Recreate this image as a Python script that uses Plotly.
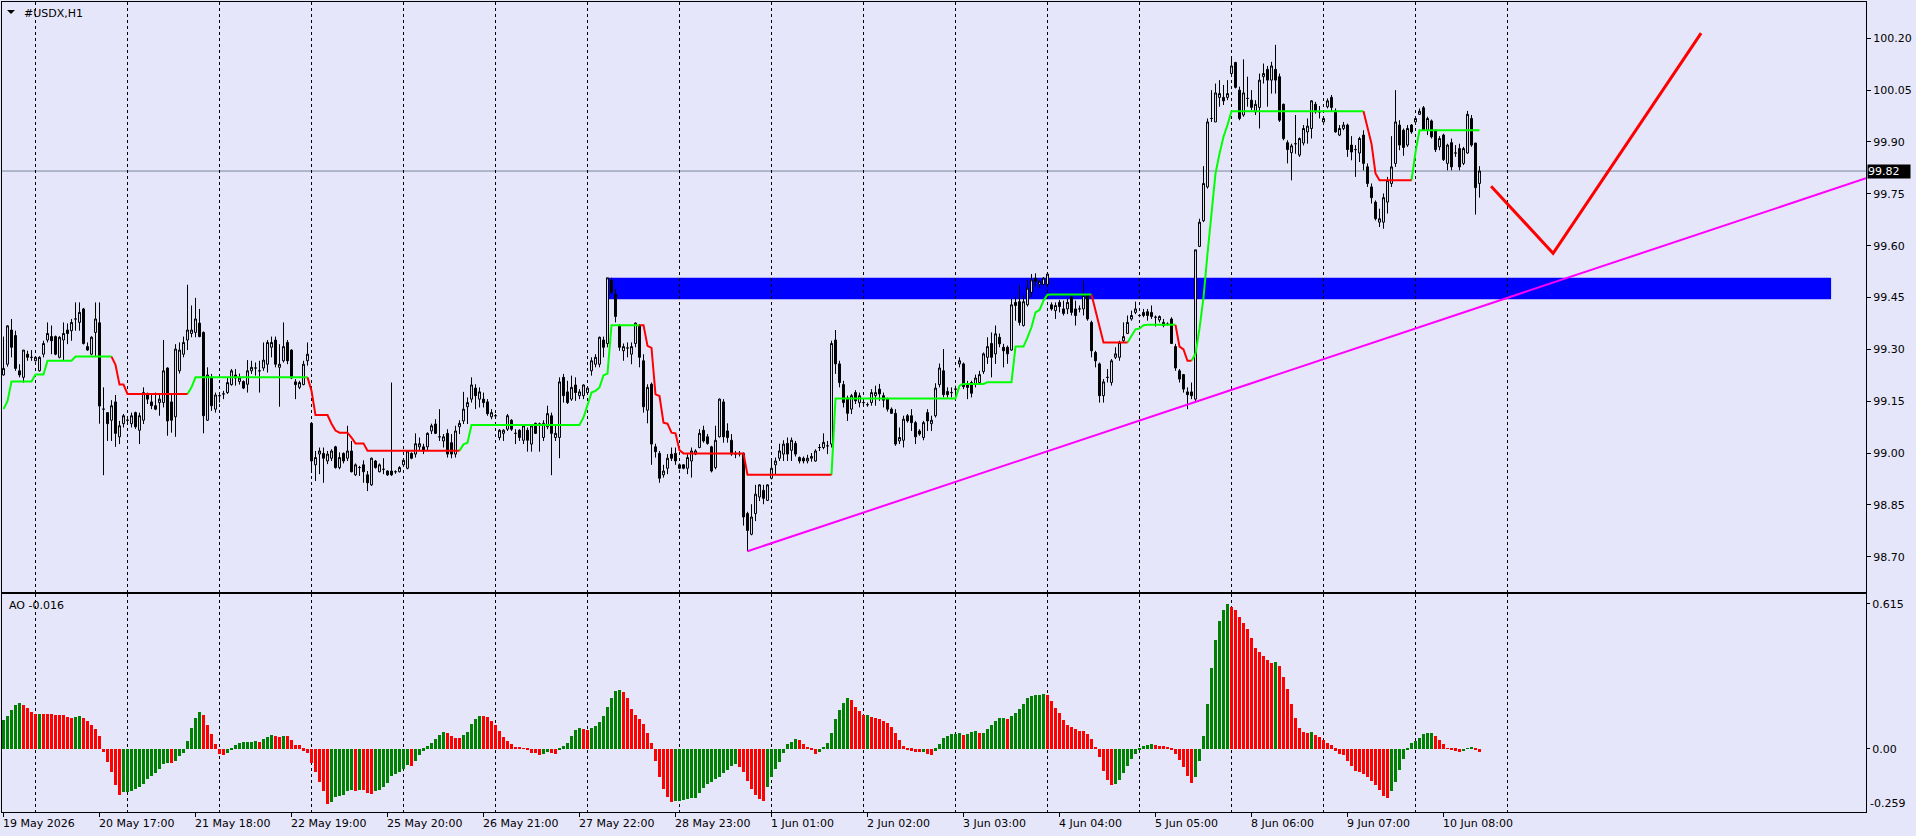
import plotly.graph_objects as go

# ---------------- data (bar index = hourly bar) ----------------
opens = [
 99.226, 99.257, 99.356, 99.340, 99.238, 99.219, 99.286, 99.277, 99.267, 99.238,
 99.286, 99.327, 99.337, 99.337, 99.277, 99.327, 99.356, 99.354, 99.388, 99.378,
 99.417, 99.308, 99.286, 99.349, 99.377, 99.127, 99.117, 99.095, 99.148, 99.047,
 99.085, 99.095, 99.085, 99.117, 99.066, 99.095, 99.171, 99.148, 99.137, 99.146,
 99.146, 99.246, 99.148, 99.105, 99.238, 99.286, 99.327, 99.346, 99.349, 99.376,
 99.349, 99.095, 99.219, 99.127, 99.166, 99.171, 99.175, 99.198, 99.226, 99.207,
 99.207, 99.199, 99.238, 99.246, 99.238, 99.246, 99.257, 99.306, 99.327, 99.248,
 99.267, 99.320, 99.298, 99.206, 99.190, 99.198, 99.267, 99.086, 98.966, 98.997,
 98.999, 98.977, 98.985, 99.018, 98.958, 98.999, 98.985, 99.006, 98.937, 98.958,
 98.966, 98.937, 98.908, 98.977, 98.946, 98.953, 98.948, 98.948, 98.946, 98.946,
 98.966, 98.956, 98.999, 98.997, 99.018, 99.018, 99.018, 99.064, 99.084, 99.047,
 99.035, 99.057, 99.030, 98.997, 99.076, 99.093, 99.134, 99.156, 99.188, 99.156,
 99.156, 99.148, 99.105, 99.108, 99.045, 99.057, 99.069, 99.095, 99.057, 99.066,
 99.037, 99.066, 99.026, 99.086, 99.084, 99.045, 99.076, 99.108, 99.045, 99.045,
 99.219, 99.177, 99.156, 99.197, 99.166, 99.166, 99.175, 99.238, 99.257, 99.257,
 99.327, 99.317, 99.499, 99.460, 99.369, 99.296, 99.304, 99.286, 99.317, 99.369,
 99.267, 99.124, 99.199, 99.018, 98.999, 98.937, 98.956, 98.997, 98.999, 98.966,
 98.966, 98.956, 98.977, 98.997, 99.016, 99.066, 99.047, 99.018, 98.958, 99.047,
 99.148, 99.064, 99.037, 98.999, 98.997, 98.999, 98.825, 98.765, 98.825, 98.873,
 98.892, 98.863, 98.927, 98.966, 98.985, 98.997, 99.028, 99.008, 99.028, 98.987,
 98.985, 98.977, 98.985, 98.977, 99.016, 99.016, 99.021, 99.026, 99.327, 99.258,
 99.198, 99.159, 99.127, 99.175, 99.146, 99.146, 99.140, 99.146, 99.166, 99.185,
 99.166, 99.156, 99.127, 99.115, 99.035, 99.037, 99.108, 99.108, 99.088, 99.064,
 99.045, 99.117, 99.085, 99.108, 99.198, 99.238, 99.178, 99.175, 99.185, 99.258,
 99.258, 99.198, 99.204, 99.198, 99.204, 99.236, 99.277, 99.317, 99.287, 99.335,
 99.306, 99.306, 99.298, 99.436, 99.438, 99.369, 99.429, 99.465, 99.506, 99.488,
 99.488, 99.488, 99.429, 99.412, 99.436, 99.417, 99.417, 99.451, 99.417, 99.417,
 99.417, 99.458, 99.378, 99.291, 99.258, 99.166, 99.219, 99.204, 99.277, 99.277,
 99.325, 99.346, 99.388, 99.407, 99.398, 99.407, 99.409, 99.407, 99.393, 99.385,
 99.378, 99.373, 99.388, 99.308, 99.238, 99.227, 99.177, 99.177, 99.156, 99.598,
 99.672, 99.770, 99.968, 99.958, 100.029, 100.029, 100.029, 100.098, 100.130, 100.050,
 99.978, 100.026, 100.021, 99.987, 100.000, 100.089, 100.110, 100.079, 100.110, 100.089,
 100.009, 99.898, 99.869, 99.895, 99.862, 99.897, 99.929, 99.939, 100.009, 99.987,
 99.958, 100.002, 100.029, 99.990, 99.920, 99.939, 99.949, 99.891, 99.878, 99.868,
 99.920, 99.828, 99.770, 99.726, 99.668, 99.668, 99.726, 99.780, 99.838, 99.949,
 99.934, 99.891, 99.949, 99.958, 99.980, 99.999, 99.934, 99.961, 99.934, 99.886,
 99.920, 99.838, 99.898, 99.868, 99.881, 99.838, 99.868, 99.968, 99.897, 99.780,
]
highs = [
 99.337, 99.370, 99.388, 99.354, 99.257, 99.298, 99.296, 99.298, 99.280, 99.280,
 99.325, 99.378, 99.369, 99.340, 99.338, 99.378, 99.375, 99.388, 99.436, 99.436,
 99.420, 99.320, 99.338, 99.436, 99.436, 99.190, 99.117, 99.153, 99.168, 99.093,
 99.113, 99.103, 99.117, 99.120, 99.117, 99.190, 99.175, 99.171, 99.175, 99.171,
 99.327, 99.248, 99.169, 99.315, 99.320, 99.337, 99.487, 99.427, 99.449, 99.417,
 99.352, 99.248, 99.229, 99.175, 99.175, 99.180, 99.219, 99.243, 99.243, 99.230,
 99.210, 99.269, 99.267, 99.262, 99.267, 99.320, 99.327, 99.337, 99.337, 99.315,
 99.378, 99.327, 99.300, 99.214, 99.209, 99.267, 99.320, 99.088, 99.006, 99.016,
 99.016, 99.006, 99.011, 99.021, 99.002, 99.002, 99.079, 99.035, 98.970, 98.963,
 98.979, 98.948, 98.987, 98.980, 98.970, 98.985, 98.950, 99.204, 98.950, 98.962,
 98.985, 99.008, 99.002, 99.057, 99.045, 99.027, 99.060, 99.085, 99.098, 99.127,
 99.055, 99.069, 99.055, 99.079, 99.095, 99.177, 99.161, 99.219, 99.199, 99.190,
 99.175, 99.156, 99.127, 99.113, 99.069, 99.069, 99.113, 99.098, 99.069, 99.069,
 99.084, 99.074, 99.084, 99.088, 99.088, 99.095, 99.137, 99.117, 99.084, 99.219,
 99.229, 99.209, 99.224, 99.219, 99.185, 99.199, 99.192, 99.277, 99.286, 99.337,
 99.337, 99.507, 99.507, 99.475, 99.373, 99.317, 99.320, 99.320, 99.378, 99.373,
 99.286, 99.199, 99.204, 99.027, 99.006, 98.966, 98.997, 99.016, 99.016, 98.970,
 98.968, 98.997, 99.016, 99.011, 99.069, 99.079, 99.055, 99.021, 99.079, 99.158,
 99.156, 99.086, 99.055, 99.006, 99.006, 99.002, 98.830, 98.852, 98.908, 98.910,
 98.908, 98.910, 98.985, 98.987, 99.027, 99.037, 99.045, 99.045, 99.035, 98.990,
 98.990, 98.995, 99.000, 99.011, 99.026, 99.057, 99.035, 99.325, 99.356, 99.267,
 99.209, 99.166, 99.171, 99.182, 99.175, 99.156, 99.146, 99.185, 99.195, 99.200,
 99.175, 99.160, 99.132, 99.127, 99.074, 99.108, 99.113, 99.127, 99.093, 99.069,
 99.093, 99.127, 99.108, 99.202, 99.259, 99.301, 99.190, 99.190, 99.195, 99.277,
 99.262, 99.209, 99.209, 99.227, 99.238, 99.291, 99.335, 99.349, 99.369, 99.346,
 99.316, 99.311, 99.446, 99.451, 99.485, 99.456, 99.501, 99.518, 99.520, 99.501,
 99.509, 99.520, 99.436, 99.436, 99.443, 99.441, 99.446, 99.456, 99.441, 99.427,
 99.499, 99.462, 99.383, 99.296, 99.262, 99.214, 99.243, 99.272, 99.306, 99.325,
 99.378, 99.398, 99.412, 99.438, 99.402, 99.417, 99.417, 99.427, 99.398, 99.398,
 99.388, 99.378, 99.393, 99.316, 99.243, 99.229, 99.190, 99.204, 99.588, 99.678,
 99.830, 99.968, 100.050, 100.069, 100.079, 100.065, 100.079, 100.142, 100.132, 100.060,
 100.139, 100.089, 100.050, 100.021, 100.098, 100.127, 100.120, 100.132, 100.181, 100.098,
 100.011, 99.905, 99.895, 99.978, 99.913, 99.949, 99.968, 100.021, 100.016, 100.004,
 99.975, 100.026, 100.036, 99.997, 99.949, 99.958, 99.953, 99.917, 99.891, 99.915,
 99.934, 99.838, 99.780, 99.731, 99.707, 99.751, 99.799, 99.917, 100.050, 99.963,
 99.939, 99.949, 99.952, 99.975, 99.997, 100.004, 99.973, 99.965, 99.936, 99.917,
 99.924, 99.895, 99.910, 99.891, 99.895, 99.886, 99.990, 99.978, 99.897, 99.830,
]
lows = [
 99.224, 99.250, 99.277, 99.238, 99.219, 99.204, 99.267, 99.267, 99.265, 99.236,
 99.277, 99.320, 99.286, 99.283, 99.274, 99.267, 99.315, 99.325, 99.354, 99.354,
 99.314, 99.296, 99.283, 99.281, 99.085, 98.936, 99.035, 99.035, 99.018, 99.026,
 99.074, 99.085, 99.074, 99.070, 99.026, 99.084, 99.142, 99.127, 99.124, 99.108,
 99.132, 99.050, 99.059, 99.047, 99.230, 99.277, 99.298, 99.335, 99.335, 99.335,
 99.057, 99.093, 99.122, 99.117, 99.146, 99.156, 99.171, 99.195, 99.195, 99.198,
 99.185, 99.175, 99.229, 99.224, 99.175, 99.238, 99.233, 99.277, 99.248, 99.134,
 99.262, 99.257, 99.214, 99.156, 99.185, 99.196, 99.253, 98.948, 98.919, 98.939,
 98.914, 98.968, 98.977, 98.955, 98.953, 98.970, 98.977, 98.944, 98.934, 98.934,
 98.914, 98.890, 98.905, 98.955, 98.944, 98.939, 98.934, 98.934, 98.940, 98.944,
 98.960, 98.953, 98.982, 98.987, 99.006, 98.997, 99.006, 99.055, 99.055, 99.035,
 99.016, 98.987, 98.985, 98.987, 99.055, 99.084, 99.084, 99.146, 99.127, 99.132,
 99.132, 99.108, 99.098, 99.103, 99.037, 99.035, 99.064, 99.064, 99.026, 99.035,
 99.026, 99.004, 99.004, 99.055, 99.004, 99.035, 99.069, 98.936, 99.035, 98.985,
 99.146, 99.142, 99.151, 99.151, 99.156, 99.156, 99.172, 99.224, 99.248, 99.248,
 99.277, 99.306, 99.460, 99.378, 99.296, 99.267, 99.277, 99.257, 99.306, 99.248,
 99.117, 99.086, 98.966, 98.987, 98.914, 98.929, 98.939, 98.977, 98.966, 98.953,
 98.953, 98.939, 98.929, 98.994, 99.014, 99.030, 99.024, 98.944, 98.953, 99.045,
 99.030, 99.030, 98.992, 98.985, 98.990, 98.790, 98.716, 98.762, 98.803, 98.861,
 98.852, 98.861, 98.924, 98.939, 98.977, 98.977, 98.977, 98.977, 98.990, 98.970,
 98.970, 98.970, 98.975, 98.975, 99.006, 99.011, 98.997, 99.016, 99.229, 99.190,
 99.132, 99.093, 99.113, 99.142, 99.132, 99.134, 99.134, 99.137, 99.137, 99.151,
 99.132, 99.120, 99.113, 99.021, 99.026, 99.016, 99.088, 99.064, 99.026, 99.050,
 99.037, 99.064, 99.064, 99.103, 99.190, 99.161, 99.161, 99.161, 99.161, 99.248,
 99.185, 99.156, 99.161, 99.190, 99.198, 99.229, 99.258, 99.219, 99.258, 99.306,
 99.248, 99.258, 99.296, 99.383, 99.369, 99.366, 99.424, 99.451, 99.482, 99.478,
 99.485, 99.482, 99.412, 99.388, 99.407, 99.398, 99.402, 99.398, 99.369, 99.407,
 99.398, 99.383, 99.277, 99.248, 99.146, 99.146, 99.204, 99.195, 99.272, 99.267,
 99.320, 99.345, 99.383, 99.402, 99.393, 99.393, 99.383, 99.388, 99.366, 99.378,
 99.364, 99.369, 99.316, 99.238, 99.204, 99.175, 99.127, 99.156, 99.151, 99.596,
 99.668, 99.765, 99.958, 99.958, 100.002, 100.007, 100.021, 100.089, 100.055, 99.963,
 99.973, 100.002, 99.992, 99.978, 99.939, 100.069, 100.002, 100.040, 100.040, 99.958,
 99.905, 99.838, 99.789, 99.866, 99.857, 99.890, 99.895, 99.910, 99.982, 99.968,
 99.953, 99.997, 99.987, 99.927, 99.917, 99.934, 99.857, 99.847, 99.799, 99.842,
 99.818, 99.770, 99.722, 99.673, 99.654, 99.649, 99.693, 99.770, 99.828, 99.876,
 99.860, 99.886, 99.924, 99.953, 99.978, 99.932, 99.920, 99.910, 99.871, 99.876,
 99.845, 99.818, 99.818, 99.857, 99.818, 99.833, 99.866, 99.886, 99.690, 99.739,
]
closes = [
 99.245, 99.368, 99.306, 99.245, 99.226, 99.298, 99.277, 99.277, 99.277, 99.277,
 99.317, 99.346, 99.325, 99.286, 99.335, 99.346, 99.346, 99.378, 99.388, 99.407,
 99.317, 99.298, 99.335, 99.388, 99.136, 99.127, 99.085, 99.137, 99.057, 99.079,
 99.108, 99.095, 99.108, 99.076, 99.108, 99.175, 99.156, 99.137, 99.127, 99.156,
 99.238, 99.093, 99.095, 99.301, 99.298, 99.320, 99.356, 99.356, 99.388, 99.337,
 99.108, 99.226, 99.137, 99.168, 99.166, 99.171, 99.204, 99.238, 99.217, 99.217,
 99.188, 99.238, 99.248, 99.246, 99.238, 99.269, 99.320, 99.320, 99.257, 99.257,
 99.308, 99.267, 99.217, 99.198, 99.204, 99.257, 99.286, 98.977, 98.987, 99.006,
 98.985, 98.997, 99.006, 98.958, 98.987, 98.977, 99.006, 98.946, 98.966, 98.958,
 98.946, 98.914, 98.985, 98.958, 98.966, 98.953, 98.937, 98.937, 98.946, 98.958,
 98.979, 99.006, 98.985, 99.027, 99.027, 99.006, 99.057, 99.079, 99.057, 99.047,
 99.047, 98.997, 98.997, 99.064, 99.086, 99.127, 99.146, 99.197, 99.166, 99.177,
 99.146, 99.114, 99.117, 99.108, 99.066, 99.066, 99.108, 99.069, 99.057, 99.045,
 99.079, 99.037, 99.079, 99.057, 99.084, 99.086, 99.114, 99.057, 99.057, 99.206,
 99.166, 99.146, 99.190, 99.175, 99.177, 99.197, 99.188, 99.267, 99.277, 99.335,
 99.306, 99.507, 99.465, 99.395, 99.306, 99.308, 99.304, 99.308, 99.376, 99.277,
 99.134, 99.190, 99.026, 99.004, 98.927, 98.948, 98.985, 98.985, 98.977, 98.956,
 98.956, 98.987, 99.006, 99.006, 99.057, 99.035, 99.028, 98.948, 99.037, 99.156,
 99.047, 99.045, 98.997, 98.997, 98.999, 98.815, 98.776, 98.815, 98.881, 98.908,
 98.869, 98.908, 98.956, 98.977, 99.006, 99.026, 98.997, 99.037, 98.997, 98.977,
 98.977, 98.985, 98.990, 99.006, 99.016, 99.031, 99.021, 99.317, 99.258, 99.204,
 99.146, 99.115, 99.166, 99.151, 99.166, 99.146, 99.140, 99.175, 99.175, 99.171,
 99.153, 99.127, 99.115, 99.026, 99.045, 99.098, 99.093, 99.088, 99.047, 99.055,
 99.088, 99.093, 99.095, 99.188, 99.246, 99.169, 99.169, 99.175, 99.185, 99.267,
 99.192, 99.190, 99.173, 99.217, 99.227, 99.287, 99.308, 99.277, 99.345, 99.316,
 99.296, 99.287, 99.429, 99.427, 99.378, 99.438, 99.477, 99.501, 99.497, 99.497,
 99.506, 99.518, 99.417, 99.427, 99.424, 99.404, 99.436, 99.407, 99.398, 99.417,
 99.456, 99.388, 99.296, 99.267, 99.166, 99.206, 99.219, 99.267, 99.287, 99.320,
 99.337, 99.378, 99.398, 99.417, 99.398, 99.398, 99.398, 99.395, 99.393, 99.395,
 99.369, 99.373, 99.317, 99.246, 99.214, 99.185, 99.169, 99.166, 99.588, 99.668,
 99.780, 99.958, 99.968, 100.042, 100.040, 100.019, 100.040, 100.120, 100.058, 99.968,
 100.042, 100.026, 100.000, 100.009, 100.079, 100.098, 100.079, 100.120, 100.079, 99.963,
 99.910, 99.878, 99.889, 99.895, 99.910, 99.939, 99.946, 100.019, 99.987, 99.987,
 99.968, 100.019, 100.000, 99.929, 99.939, 99.949, 99.878, 99.871, 99.878, 99.910,
 99.838, 99.780, 99.739, 99.678, 99.678, 99.739, 99.789, 99.828, 99.958, 99.891,
 99.884, 99.939, 99.929, 99.968, 99.989, 99.934, 99.968, 99.915, 99.878, 99.910,
 99.849, 99.891, 99.828, 99.868, 99.828, 99.881, 99.980, 99.891, 99.768, 99.816,
]

# Awesome Oscillator values
ao = [
 0.122, 0.139, 0.164, 0.186, 0.194, 0.186, 0.173, 0.156, 0.147, 0.148,
 0.147, 0.146, 0.1455, 0.145, 0.1445, 0.144, 0.135, 0.130, 0.135, 0.139,
 0.130, 0.118, 0.101, 0.084, 0.054, -0.013, -0.055, -0.098, -0.153, -0.195,
 -0.183, -0.182, -0.178, -0.170, -0.161, -0.149, -0.127, -0.115, -0.102, -0.085,
 -0.064, -0.059, -0.060, -0.051, -0.030, -0.017, 0.034, 0.088, 0.130, 0.156,
 0.143, 0.101, 0.062, 0.020, -0.021, -0.025, -0.017, -0.004, 0.016, 0.024,
 0.028, 0.0285, 0.029, 0.033, 0.028, 0.041, 0.050, 0.058, 0.054, 0.050,
 0.054, 0.053, 0.037, 0.016, 0.015, -0.008, -0.017, -0.059, -0.098, -0.140,
 -0.178, -0.236, -0.225, -0.204, -0.200, -0.195, -0.178, -0.174, -0.178, -0.174,
 -0.175, -0.187, -0.191, -0.178, -0.174, -0.161, -0.144, -0.115, -0.106, -0.098,
 -0.085, -0.068, -0.072, -0.051, -0.025, -0.008, 0.013, 0.024, 0.041, 0.058,
 0.071, 0.067, 0.054, 0.045, 0.044, 0.058, 0.071, 0.105, 0.126, 0.139,
 0.138, 0.135, 0.118, 0.101, 0.075, 0.050, 0.033, 0.020, 0.008, 0.007,
 0.003, -0.004, -0.017, -0.018, -0.025, -0.024, -0.013, -0.017, -0.021, -0.004,
 0.011, 0.024, 0.054, 0.079, 0.088, 0.084, 0.079, 0.088, 0.096, 0.113,
 0.139, 0.177, 0.215, 0.245, 0.249, 0.241, 0.215, 0.169, 0.143, 0.126,
 0.105, 0.067, 0.024, -0.051, -0.119, -0.170, -0.204, -0.225, -0.224, -0.221,
 -0.217, -0.212, -0.209, -0.208, -0.187, -0.166, -0.149, -0.140, -0.127, -0.119,
 -0.102, -0.089, -0.072, -0.064, -0.077, -0.098, -0.138, -0.170, -0.195, -0.212,
 -0.224, -0.163, -0.120, -0.085, -0.057, -0.018, 0.020, 0.028, 0.041, 0.037,
 0.020, 0.007, -0.004, -0.021, -0.013, 0.007, 0.024, 0.067, 0.126, 0.164,
 0.194, 0.215, 0.207, 0.177, 0.160, 0.143, 0.145, 0.136, 0.132, 0.127,
 0.118, 0.110, 0.092, 0.067, 0.037, 0.011, -0.004, -0.008, -0.013, -0.014,
 -0.012, -0.021, -0.025, -0.008, 0.020, 0.045, 0.054, 0.062, 0.063, 0.067,
 0.058, 0.062, 0.071, 0.075, 0.067, 0.068, 0.084, 0.101, 0.118, 0.130,
 0.131, 0.126, 0.139, 0.152, 0.169, 0.190, 0.215, 0.224, 0.228, 0.229,
 0.232, 0.228, 0.203, 0.173, 0.152, 0.122, 0.101, 0.092, 0.084, 0.075,
 0.074, 0.062, 0.041, 0.007, -0.034, -0.095, -0.133, -0.154, -0.150, -0.133,
 -0.103, -0.074, -0.044, -0.023, -0.004, 0.011, 0.016, 0.020, 0.016, 0.013,
 0.012, 0.007, -0.004, -0.023, -0.048, -0.078, -0.116, -0.146, -0.120, -0.052,
 0.054, 0.190, 0.343, 0.462, 0.543, 0.589, 0.615, 0.602, 0.589, 0.560,
 0.534, 0.509, 0.470, 0.428, 0.411, 0.394, 0.377, 0.364, 0.368, 0.351,
 0.305, 0.254, 0.190, 0.130, 0.088, 0.071, 0.067, 0.071, 0.058, 0.050,
 0.037, 0.024, 0.016, -0.008, -0.023, -0.027, -0.052, -0.074, -0.095, -0.099,
 -0.108, -0.120, -0.137, -0.154, -0.176, -0.200, -0.210, -0.180, -0.142, -0.091,
 -0.044, -0.004, 0.024, 0.033, 0.045, 0.062, 0.067, 0.068, 0.054, 0.037,
 0.020, 0.003, -0.004, -0.008, -0.013, -0.011, 0.003, 0.007, -0.006, -0.016,
]
# scale labels printed on the AO window (max / zero / min of the window)
ao_scale_labels = [0.615, 0.00, -0.259]

# trailing-stop line: (value, number of bars) and trend direction runs
trail_runs = [
 (99.127, 1), (99.150, 1), (99.207, 6), (99.227, 3), (99.267, 7), (99.279, 10),
 (99.255, 1), (99.198, 2), (99.171, 16), (99.190, 1), (99.219, 29), (99.180, 1),
 (99.110, 4), (99.085, 1), (99.065, 1), (99.059, 3), (99.045, 1), (99.028, 3),
 (99.007, 24), (99.025, 1), (99.030, 1), (99.081, 28), (99.103, 1), (99.142, 1),
 (99.175, 1), (99.180, 1), (99.190, 1), (99.225, 1), (99.230, 1), (99.370, 9),
 (99.310, 1), (99.304, 1), (99.170, 1), (99.165, 1), (99.088, 1), (99.085, 1),
 (99.059, 1), (99.057, 1), (99.008, 1), (98.999, 16), (98.937, 22), (99.158, 31),
 (99.195, 1), (99.200, 6), (99.205, 7), (99.308, 3), (99.335, 1), (99.364, 1),
 (99.407, 1), (99.414, 1), (99.441, 1), (99.458, 1), (99.459, 11), (99.412, 1),
 (99.358, 1), (99.320, 7), (99.339, 1), (99.358, 1), (99.360, 1), (99.370, 1),
 (99.371, 8), (99.308, 1), (99.300, 1), (99.267, 2), (99.287, 1), (99.360, 1),
 (99.450, 1), (99.577, 1), (99.688, 1), (99.809, 1), (99.866, 1), (99.915, 1),
 (99.949, 1), (99.989, 34), (99.944, 1), (99.895, 1), (99.809, 1), (99.789, 9),
 (99.870, 1), (99.934, 16),
]
trail_dir_runs = [
 ("u", 28), ("d", 19), ("u", 30), ("d", 38), ("u", 45), ("d", 48), ("u", 65),
 ("d", 9), ("u", 12), ("d", 4), ("u", 43), ("d", 12), ("u", 17),
]

time_labels = ["19 May 2026", "20 May 17:00", "21 May 18:00", "22 May 19:00",
               "25 May 20:00", "26 May 21:00", "27 May 22:00", "28 May 23:00",
               "1 Jun 01:00", "2 Jun 02:00", "3 Jun 03:00", "4 Jun 04:00",
               "5 Jun 05:00", "8 Jun 06:00", "9 Jun 07:00", "10 Jun 08:00"]
label_step = 24
grid_bars = [8, 31, 54, 77, 100, 123, 146, 169, 192, 215, 238, 261, 284, 307, 330, 353, 376]
price_ticks = [98.70, 98.85, 99.00, 99.15, 99.30, 99.45, 99.60, 99.75, 99.90, 100.05, 100.20]

# drawn objects
zone_start, zone_end, zone_low, zone_high = 151.3, 456.9, 99.445, 99.507
trend_x, trend_y = [186, 465.625], [98.716, 99.795]
forecast_x, forecast_y = [371.9, 387.4, 424.4], [99.772, 99.578, 100.215]

# ---------------- build ----------------
lens = [len(opens), len(highs), len(lows), len(closes), len(ao)]
assert len(set(lens)) == 1, f"length mismatch {lens}"
n = len(closes)
x = list(range(n))

trail = []
for v, c in trail_runs:
    trail += [v] * c
tdir = []
for d, c in trail_dir_runs:
    tdir += [d] * c
assert len(trail) == n and len(tdir) == n, f"trail {len(trail)} dir {len(tdir)}"


def trail_part(code):
    out = []
    for i in range(n):
        if tdir[i] == code or (i + 1 < n and tdir[i + 1] == code):
            out.append(trail[i])
        else:
            out.append(None)
    return out


ao_colors = []
for i, v in enumerate(ao):
    if i == 0 or v > ao[i - 1]:
        ao_colors.append("#008000")
    else:
        ao_colors.append("#FF0000")

BG = "#E6E6FA"
FONT = "DejaVu Sans"
xr = [-0.375, 465.625]

fig = go.Figure()
fig.add_trace(go.Candlestick(
    x=x, open=opens, high=highs, low=lows, close=closes,
    xaxis="x", yaxis="y", whiskerwidth=0,
    increasing=dict(line=dict(color="black", width=1), fillcolor=BG),
    decreasing=dict(line=dict(color="black", width=1), fillcolor="black"),
    hoverinfo="skip", showlegend=False))
fig.add_trace(go.Scatter(x=x, y=trail_part("u"), mode="lines", line=dict(color="#00FF00", width=2),
                         xaxis="x", yaxis="y", hoverinfo="skip", connectgaps=False))
fig.add_trace(go.Scatter(x=x, y=trail_part("d"), mode="lines", line=dict(color="#FF0000", width=2),
                         xaxis="x", yaxis="y", hoverinfo="skip", connectgaps=False))
fig.add_trace(go.Scatter(x=trend_x, y=trend_y, mode="lines", line=dict(color="#FF00FF", width=2),
                         xaxis="x", yaxis="y", hoverinfo="skip"))
fig.add_trace(go.Scatter(x=forecast_x, y=forecast_y, mode="lines", line=dict(color="#FF0000", width=3),
                         xaxis="x", yaxis="y", hoverinfo="skip"))
fig.add_trace(go.Bar(x=x, y=ao, marker=dict(color=ao_colors, line=dict(width=0)), width=0.72,
                     xaxis="x2", yaxis="y2", hoverinfo="skip"))

ao_top, ao_zero, ao_bottom = ao_scale_labels

grid_minor = dict(tickmode="array", tickvals=grid_bars, showgrid=True, gridcolor="black",
                  gridwidth=1, griddash="3px,3px", ticks="")
axis_common = dict(showline=True, linecolor="black", linewidth=1, mirror=True,
                   showgrid=False, zeroline=False)

fig.update_layout(
    width=1916, height=836,
    margin=dict(l=2, r=50, t=2, b=24),
    paper_bgcolor=BG, plot_bgcolor=BG,
    showlegend=False, hovermode=False,
    font=dict(family=FONT, size=11, color="black"),
    bargap=0,
    xaxis=dict(domain=[0, 1], anchor="y", range=xr, showticklabels=False, ticks="",
               rangeslider=dict(visible=False), minor=grid_minor, **axis_common),
    xaxis2=dict(domain=[0, 1], anchor="y2", range=xr, showticklabels=False,
                ticks="outside", ticklen=4, tickcolor="black", tickmode="array",
                tickvals=list(range(0, label_step * len(time_labels), label_step)),
                minor=grid_minor, **axis_common),
    yaxis=dict(domain=[0.2716, 1], anchor="x", side="right", range=[98.598, 100.305],
               tickmode="array", tickvals=price_ticks, ticktext=[f"{v:.2f}" for v in price_ticks],
               ticks="outside", ticklen=4, tickcolor="black", **axis_common),
    yaxis2=dict(domain=[0, 0.26914], anchor="x2", side="right", range=[-0.269, 0.6575],
                tickmode="array", tickvals=[ao_top, ao_zero], ticktext=[f"{ao_top:.3f}", f"{ao_zero:.2f}"],
                ticks="outside", ticklen=3, tickcolor="black", **axis_common),
)

shapes = [
    dict(type="rect", xref="x", yref="y", x0=zone_start, x1=zone_end, y0=zone_low, y1=zone_high,
         fillcolor="#0000FF", line=dict(width=0), layer="below"),
    dict(type="line", xref="paper", yref="y", x0=0, x1=1, y0=closes[-1], y1=closes[-1],
         line=dict(color="#778899", width=1), layer="below"),
    # small dropdown triangle next to the symbol name
    dict(type="path", xref="paper", yref="paper",
         path=f"M {(7-2)/1864},{(812-10)/810} L {(15-2)/1864},{(812-10)/810} L {(11-2)/1864},{(812-14)/810} Z",
         fillcolor="black", line=dict(width=0)),
]
fig.update_layout(shapes=shapes)

ann = []
for k, lbl in enumerate(time_labels):
    ann.append(dict(x=k * label_step, xref="x2", y=-0.0148, yref="paper", text=lbl,
                    showarrow=False, xanchor="left", yanchor="middle", xshift=-3,
                    font=dict(family=FONT, size=11, color="black")))
ann.append(dict(x=(22 - 2) / 1864, xref="paper", y=(812 - 13) / 810, yref="paper", text="#USDX,H1",
                showarrow=False, xanchor="left", yanchor="middle", font=dict(family=FONT, size=11, color="black")))
ann.append(dict(x=(7 - 2) / 1864, xref="paper", y=(812 - 605) / 810, yref="paper", text=f"AO {ao[-1]:.3f}",
                showarrow=False, xanchor="left", yanchor="middle", font=dict(family=FONT, size=11, color="black")))
ann.append(dict(x=1, xref="paper", y=closes[-1], yref="y", text=f"{closes[-1]:.2f}", showarrow=False,
                xanchor="left", yanchor="middle", xshift=1, bgcolor="black", borderpad=0,
                width=42, height=13, align="left",
                font=dict(family=FONT, size=11, color="white")))
ann.append(dict(x=1, xref="paper", y=ao_bottom, yref="y2", text=f"{ao_bottom:.3f}", showarrow=False,
                xanchor="left", yanchor="middle", xshift=2, yshift=6,
                font=dict(family=FONT, size=11, color="black")))
fig.update_layout(annotations=ann)

fig.write_html("out.html")
